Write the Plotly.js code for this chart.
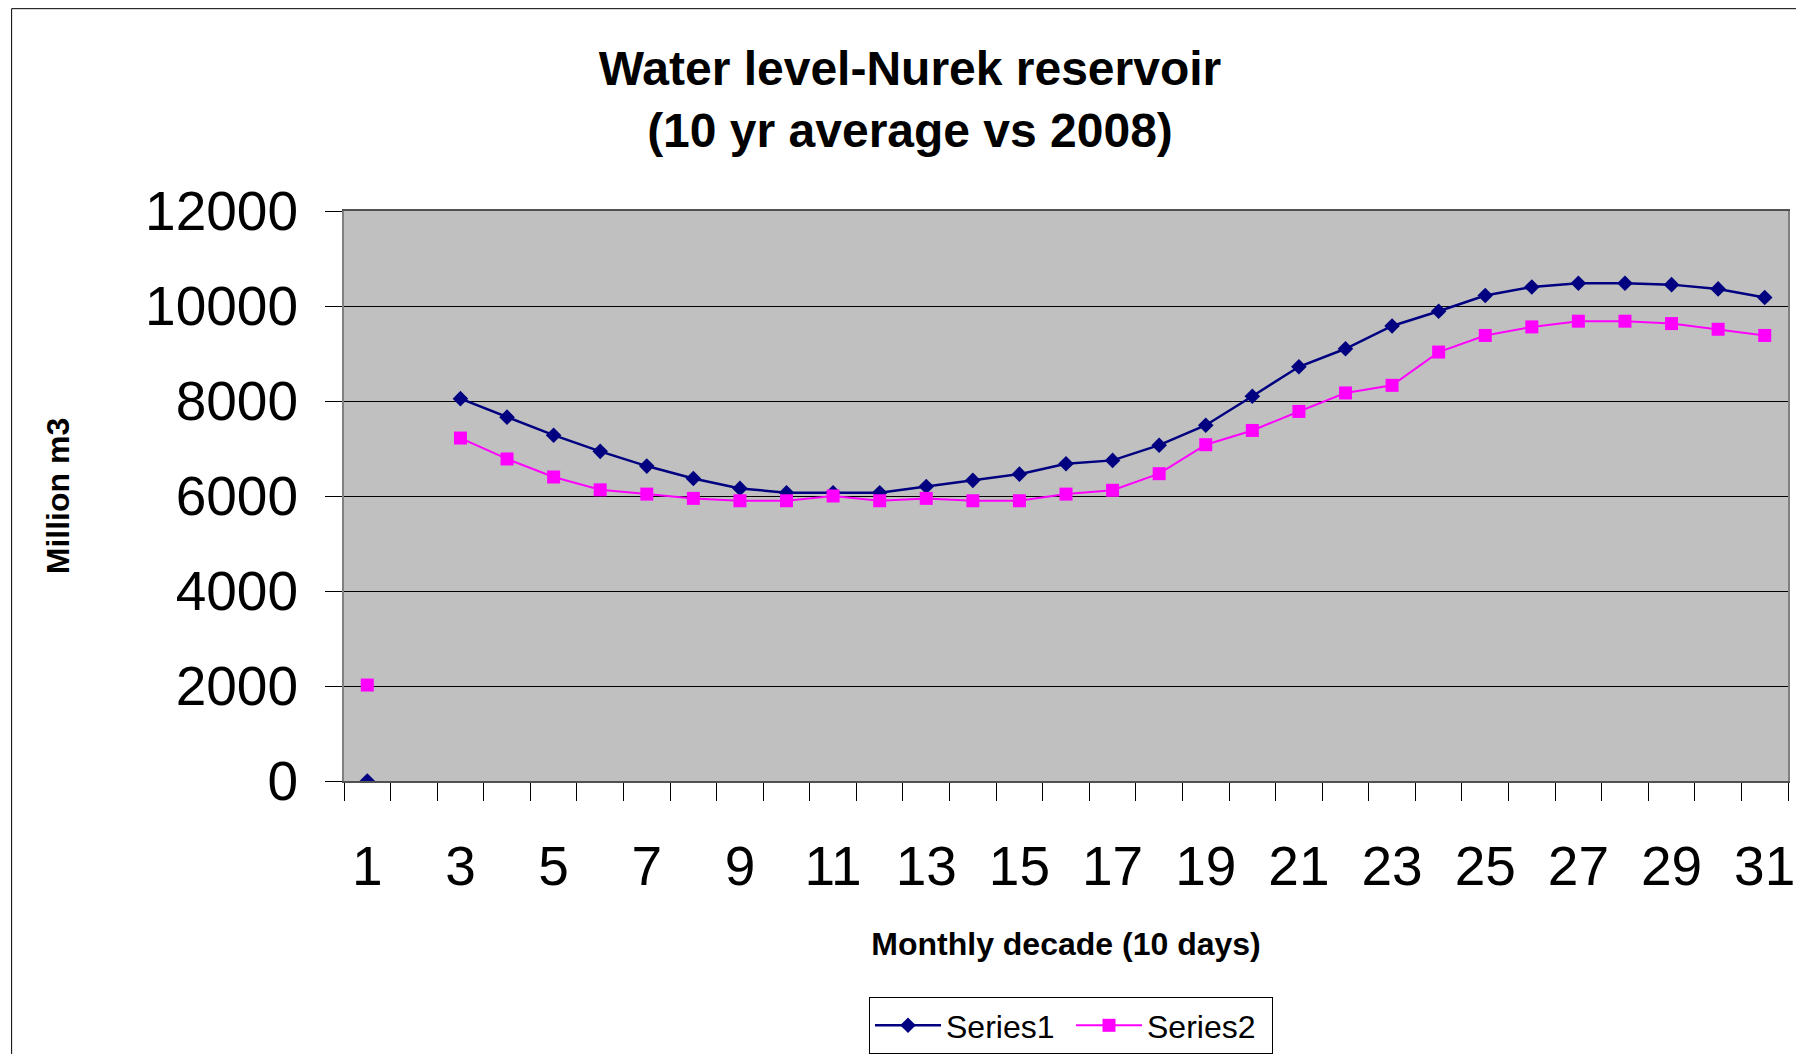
<!DOCTYPE html>
<html>
<head>
<meta charset="utf-8">
<script src="https://cdn.plot.ly/plotly-3.0.1.min.js"></script>
<style>
html, body { margin: 0; padding: 0; background: #ffffff; }
#chart { width: 1796px; height: 1054px; }
</style>
</head>
<body>
<div id="chart"></div>
<script>
// Monthly decade index (10-day periods)
const decades = [1,2,3,4,5,6,7,8,9,10,11,12,13,14,15,16,17,18,19,20,21,22,23,24,25,26,27,28,29,30,31];
// Series1: 10 yr average (million m3); decade 2 has no value
const series1 = [0, null, 8050, 7660, 7280, 6940, 6630, 6370, 6160, 6070, 6070, 6070, 6200, 6330, 6460, 6680, 6750, 7070, 7490, 8100, 8720, 9100, 9580, 9890, 10220, 10400, 10480, 10480, 10450, 10360, 10180];
// Series2: 2008 (million m3); decade 2 has no value
const series2 = [2020, null, 7220, 6780, 6400, 6130, 6040, 5950, 5900, 5900, 6000, 5900, 5950, 5900, 5900, 6040, 6120, 6470, 7080, 7380, 7780, 8170, 8330, 9030, 9380, 9560, 9680, 9680, 9630, 9510, 9380];
const seriesNames = ["Series1", "Series2"];
const xTickVals = [1,3,5,7,9,11,13,15,17,19,21,23,25,27,29,31];
const xTickText = ["1","3","5","7","9","11","13","15","17","19","21","23","25","27","29","31"];
const yTickVals = [0, 2000, 4000, 6000, 8000, 10000, 12000];
const yTickText = ["0", "2000", "4000", "6000", "8000", "10000", "12000"];
const titleText = "Water level-Nurek reservoir<br>(10 yr average vs 2008)";
const xTitle = "Monthly decade (10 days)";
const yTitle = "Million m3";

const FONT = '"Liberation Sans", Arial, Helvetica, sans-serif';
const boundaries = decades.map(d => d - 0.5).concat([decades[decades.length - 1] + 0.5]);

const traces = [
  {
    x: decades, y: series1, name: seriesNames[0], type: 'scatter', mode: 'lines+markers',
    connectgaps: false,
    line: { color: '#000080', width: 2.5 },
    marker: { symbol: 'diamond', size: 12, color: '#000080' }
  },
  {
    x: decades, y: series2, name: seriesNames[1], type: 'scatter', mode: 'lines+markers',
    connectgaps: false,
    line: { color: '#FF00FF', width: 2 },
    marker: { symbol: 'square', size: 13, color: '#FF00FF' }
  }
];

const W = 1796, H = 1054;
const PLOT_L = 343.5, PLOT_R = 1788, PLOT_T = 210.5, PLOT_B = 781;
const plotW = PLOT_R - PLOT_L, plotH = PLOT_B - PLOT_T;

const layout = {
  width: W, height: H,
  paper_bgcolor: '#ffffff', plot_bgcolor: '#C0C0C0',
  margin: { l: PLOT_L, r: W - PLOT_R, t: PLOT_T, b: H - PLOT_B, pad: 0 },
  font: { family: FONT, color: '#000000' },
  showlegend: true,
  title: {
    text: titleText,
    font: { family: FONT, size: 48, color: '#000000', weight: 'bold' },
    xref: 'container', x: 910 / W, xanchor: 'center',
    yref: 'container', y: 1 - 85 / H, yanchor: 'middle'
  },
  xaxis: {
    range: [0.5, 31.5], autorange: false,
    tickmode: 'array', tickvals: xTickVals, ticktext: xTickText,
    ticks: '', ticklabelstandoff: 36, ticklabeloverflow: 'allow',
    tickfont: { family: FONT, size: 55, color: '#000000' },
    showgrid: false, zeroline: false,
    showline: true, linecolor: '#505050', linewidth: 2, mirror: true,
    minor: { tickmode: 'array', tickvals: boundaries, ticks: 'outside', ticklen: 18, tickcolor: '#000000', tickwidth: 1, showgrid: false },
    title: { text: xTitle, font: { family: FONT, size: 32, color: '#000000', weight: 'bold' }, standoff: 37 },
    automargin: false
  },
  yaxis: {
    range: [0, 12000], autorange: false,
    tickmode: 'array', tickvals: yTickVals, ticktext: yTickText,
    ticks: 'outside', ticklen: 17, tickcolor: '#000000', tickwidth: 1,
    ticklabelstandoff: 16,
    tickfont: { family: FONT, size: 55, color: '#000000' },
    showgrid: true, gridcolor: '#000000', gridwidth: 1,
    zeroline: false,
    showline: true, linecolor: '#808080', linewidth: 2, mirror: true,
    title: { text: yTitle, font: { family: FONT, size: 32, color: '#000000', weight: 'bold' }, standoff: 66 },
    automargin: false
  },
  legend: {
    orientation: 'h',
    xref: 'container', x: 869 / W, xanchor: 'left',
    yref: 'container', y: 1 - 997 / H, yanchor: 'top',
    bgcolor: '#ffffff', bordercolor: '#000000', borderwidth: 1,
    font: { family: FONT, size: 32, color: '#000000' },
    itemwidth: 66, entrywidth: 120, entrywidthmode: 'pixels', tracegroupgap: 0
  },
  shapes: [
    { type: 'rect', xref: 'paper', yref: 'paper',
      x0: (11 - PLOT_L) / plotW, x1: 1.2, y0: -1, y1: (PLOT_B - 8) / plotH,
      line: { color: '#000000', width: 1 }, fillcolor: 'rgba(0,0,0,0)', layer: 'below' }
  ]
};

Plotly.newPlot('chart', traces, layout, { displayModeBar: false, staticPlot: true });
</script>
</body>
</html>
